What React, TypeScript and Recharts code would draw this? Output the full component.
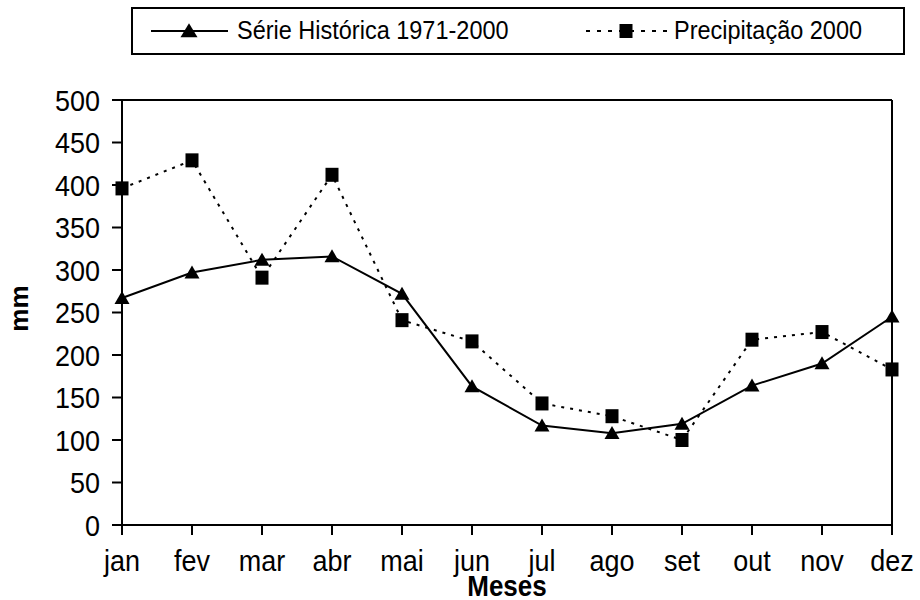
import { LineChart, Line, XAxis, YAxis, ReferenceLine, Label } from 'recharts'

const meses = ['jan', 'fev', 'mar', 'abr', 'mai', 'jun', 'jul', 'ago', 'set', 'out', 'nov', 'dez']
const serieHistorica = [267, 297, 312, 316, 272, 163, 117, 108, 119, 164, 190, 245]
const precip2000 = [396, 429, 291, 412, 241, 216, 143, 128, 100, 218, 227, 183]
const yTicks = [0, 50, 100, 150, 200, 250, 300, 350, 400, 450, 500]

const data = meses.map((m, i) => ({ mes: m, hist: serieHistorica[i], prec: precip2000[i] }))

const font = '"Liberation Sans", Arial, sans-serif'
const SY = 1.12

const Triangle = ({ cx, cy, w = 15, h = 13 }: any) => {
  if (cx == null || cy == null) return null
  return <path d={`M${cx},${cy - h * 0.55} L${cx + w / 2},${cy + h * 0.45} L${cx - w / 2},${cy + h * 0.45} Z`} fill="#000" />
}

const Square = ({ cx, cy }: any) => {
  if (cx == null || cy == null) return null
  return <rect x={cx - 6.5} y={cy - 7} width={13} height={14} fill="#000" />
}

const XTick = ({ x, y, payload }: any) => (
  <g transform={`translate(${x},${y}) scale(1,${SY})`}>
    <text x={0} y={0} dy="0.71em" textAnchor="middle" fontSize={27} fontFamily={font} fill="#000">{payload.value}</text>
  </g>
)

const YTick = ({ x, y, payload }: any) => (
  <g transform={`translate(${x},${y}) scale(1,${SY})`}>
    <text x={0} y={0} dy="0.355em" textAnchor="end" fontSize={27} fontFamily={font} fill="#000">{payload.value}</text>
  </g>
)

export default function App() {
  return (
    <div style={{ position: 'absolute', left: 0, top: 0, width: 920, height: 600, background: '#fff', fontFamily: font }}>
      {/* legend box */}
      <div style={{ position: 'absolute', left: 131, top: 7, width: 774, height: 48, border: '2px solid #000', boxSizing: 'border-box' }}>
        <svg width={770} height={44} style={{ position: 'absolute', left: 0, top: 0 }}>
          <line x1={18} y1={22} x2={95} y2={22} stroke="#000" strokeWidth={2} />
          <Triangle cx={56} cy={22} w={17} h={14} />
          <g transform={`translate(104,30) scale(1,${SY})`}>
            <text x={0} y={0} fontSize={23.5} fontFamily={font}>Série Histórica 1971-2000</text>
          </g>
          <line x1={453} y1={22} x2={536} y2={22} stroke="#000" strokeWidth={2} strokeDasharray="4 7" />
          <Square cx={493} cy={22} />
          <g transform={`translate(541,30) scale(1,${SY})`}>
            <text x={0} y={0} fontSize={23.5} fontFamily={font}>Precipitação 2000</text>
          </g>
        </svg>
      </div>
      <LineChart width={920} height={600} data={data} margin={{ top: 100, right: 28, left: 0, bottom: 0 }}>
        <XAxis
          dataKey="mes"
          height={75}
          tick={<XTick />}
          tickSize={10}
          tickMargin={15}
          tickLine={{ stroke: '#000', strokeWidth: 2 }}
          axisLine={{ stroke: '#000', strokeWidth: 2 }}
          interval={0}
        >
          <Label
            content={({ viewBox }: any) => (
              <g transform={`translate(${viewBox.x + viewBox.width / 2},${viewBox.y + viewBox.height - 4}) scale(1,${SY})`}>
                <text x={0} y={0} textAnchor="middle" fontSize={26} fontWeight="bold" fontFamily={font} fill="#000">Meses</text>
              </g>
            )}
          />
        </XAxis>
        <YAxis
          width={122}
          domain={[0, 500]}
          ticks={yTicks}
          tick={<YTick />}
          tickSize={10}
          tickMargin={12}
          tickLine={{ stroke: '#000', strokeWidth: 2 }}
          axisLine={{ stroke: '#000', strokeWidth: 2 }}
        >
          <Label
            content={({ viewBox }: any) => (
              <g transform={`translate(${viewBox.x + 28},${viewBox.y + viewBox.height / 2 - 4}) rotate(-90)`}>
                <text x={0} y={0} textAnchor="middle" fontSize={26} fontWeight="bold" fontFamily={font} fill="#000">mm</text>
              </g>
            )}
          />
        </YAxis>
        <ReferenceLine y={500} stroke="#000" strokeWidth={2} />
        <ReferenceLine x="dez" stroke="#000" strokeWidth={2} />
        <Line dataKey="prec" stroke="#000" strokeWidth={2} strokeDasharray="3 6" dot={<Square />} isAnimationActive={false} />
        <Line dataKey="hist" stroke="#000" strokeWidth={2} dot={<Triangle />} isAnimationActive={false} />
      </LineChart>
    </div>
  )
}
